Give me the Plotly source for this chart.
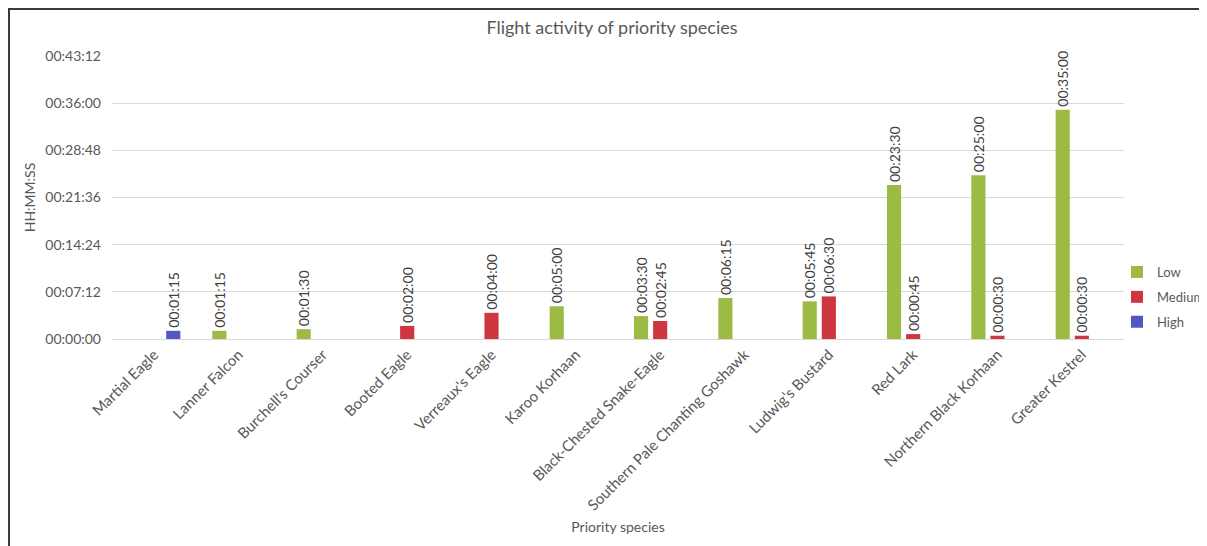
import plotly.graph_objects as go

species = ["Martial Eagle", "Lanner Falcon", "Burchell's Courser", "Booted Eagle",
           "Verreaux's Eagle", "Karoo Korhaan", "Black-Chested Snake-Eagle",
           "Southern Pale Chanting Goshawk", "Ludwig's Bustard", "Red Lark",
           "Northern Black Korhaan", "Greater Kestrel"]

# durations in seconds (None = no observation)
low_s = [None, 75, 90, None, None, 300, 210, 375, 345, 1410, 1500, 2100]
medium_s = [None, None, None, 120, 240, None, 165, None, 390, 45, 30, 30]
high_s = [75, None, None, None, None, None, None, None, None, None, None, None]

tick_vals = [0, 432, 864, 1296, 1728, 2160, 2592]
tick_text = ["00:00:00", "00:07:12", "00:14:24", "00:21:36", "00:28:48", "00:36:00", "00:43:12"]

series_names = ["Low", "Medium", "High"]
series_colors = ["#9BBB45", "#D0363F", "#5456C4"]


def fmt(s):
    if s is None:
        return ""
    h = s // 3600
    m = (s % 3600) // 60
    sec = s % 60
    return f"{h:02d}:{m:02d}:{sec:02d}"


FONT = "Lato"
GRAY = "#595959"

fig = go.Figure()
for name, vals, col in zip(series_names, [low_s, medium_s, high_s], series_colors):
    fig.add_trace(go.Bar(
        name=name, legendgroup=name, x=species, y=vals, marker_color=col, marker_line_width=0,
        text=[fmt(v) for v in vals], textposition="outside", textangle=-90,
        textfont=dict(family=FONT, size=14, color="#404040"),
        cliponaxis=False, constraintext="none",
    ))

# page is drawn with an 8px body margin, so figure coords = page coords - 8
OFF = 8
W, H = 1207 - OFF, 546 - OFF
L, R, T, B = 104, 83, 48, 207
pw, ph = W - L - R, H - T - B


def px_x(x):
    return (x - L) / pw


def px_y(y):
    return (H - B - y) / ph


fig.update_layout(
    width=W, height=H,
    margin=dict(l=L, r=R, t=T, b=B, autoexpand=False),
    paper_bgcolor="white", plot_bgcolor="white",
    barmode="group", bargap=0.32, bargroupgap=0.26,
    font=dict(family=FONT, color=GRAY),
    title=dict(text="Flight activity of priority species", x=(612 - OFF) / W, xanchor="center",
               y=1 - (28 - OFF) / H, yanchor="middle", yref="container",
               font=dict(family=FONT, size=18, color=GRAY)),
    legend=dict(x=px_x(1109), xanchor="left", y=px_y(249), yanchor="top",
                font=dict(family=FONT, size=13, color=GRAY), tracegroupgap=5,
                itemwidth=30, bgcolor="rgba(0,0,0,0)"),
    showlegend=True,
)
fig.update_xaxes(tickangle=-45, tickfont=dict(family=FONT, size=15, color=GRAY),
                 showline=True, linecolor="#D9D9D9", linewidth=1, showgrid=False,
                 title=dict(text="Priority species", standoff=9,
                            font=dict(family=FONT, size=14, color=GRAY)),
                 automargin=False)
fig.update_yaxes(range=[0, 2592], tickvals=tick_vals, ticktext=tick_text,
                 tickfont=dict(family=FONT, size=14, color=GRAY),
                 showgrid=True, gridcolor="#D9D9D9", gridwidth=1, zeroline=False,
                 ticklabelstandoff=10,
                 title=dict(text="HH:MM:SS", standoff=6,
                            font=dict(family=FONT, size=14, color=GRAY)),
                 automargin=False)

# frame lines (top and left) of the embedded chart
fig.add_shape(type="line", xref="paper", yref="paper",
              x0=px_x(0), x1=px_x(W), y0=px_y(1), y1=px_y(1),
              line=dict(color="#3A3A3A", width=2))
fig.add_shape(type="line", xref="paper", yref="paper",
              x0=px_x(1), x1=px_x(1), y0=px_y(0), y1=px_y(H),
              line=dict(color="#3A3A3A", width=2))

fig.write_html("out.html")
